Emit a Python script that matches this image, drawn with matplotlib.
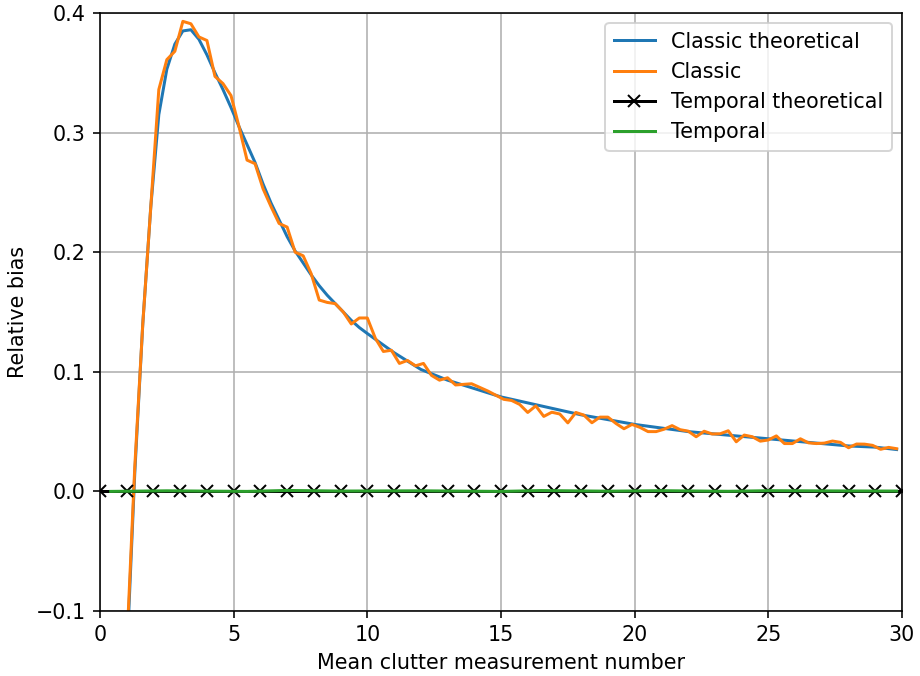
import numpy as np
import matplotlib
matplotlib.use("Agg")
import matplotlib.pyplot as plt

plt.rcParams["font.size"] = 10.3

# Classic estimator, sampled every 0.3 from 1.0 to 29.8
classic_x = np.round(np.arange(1.0, 29.81, 0.3), 1)
classic_y = [
    -0.13, 0.02, 0.14, 0.238, 0.336, 0.361, 0.368, 0.393, 0.391, 0.380,
    0.377, 0.347, 0.341, 0.331, 0.305, 0.277, 0.274, 0.253, 0.238, 0.224,
    0.221, 0.200, 0.197, 0.182, 0.160, 0.158, 0.157, 0.150, 0.140, 0.145,
    0.145, 0.128, 0.117, 0.118, 0.107, 0.1095, 0.105, 0.107, 0.097, 0.093,
    0.095, 0.089, 0.0895, 0.090, 0.087, 0.084, 0.0805, 0.077, 0.076, 0.0727,
    0.066, 0.0715, 0.0627, 0.0662, 0.0647, 0.0573, 0.066, 0.0638, 0.0574, 0.0621,
    0.0621, 0.0568, 0.0524, 0.056, 0.0535, 0.050, 0.050, 0.052, 0.055, 0.0516,
    0.0504, 0.0457, 0.0503, 0.048, 0.0482, 0.0507, 0.0415, 0.0471, 0.0457, 0.042,
    0.043, 0.0464, 0.040, 0.040, 0.044, 0.0406, 0.040, 0.0404, 0.0421, 0.041,
    0.0365, 0.0396, 0.0395, 0.0385, 0.0352, 0.0368, 0.0357,
]

# Classic theoretical curve (read at selected points)
theo_x = [1.0, 1.3, 1.6, 1.9, 2.2, 2.5, 2.8, 3.1, 3.4, 3.7, 4.0, 4.3, 4.6, 4.9,
          5.2, 5.5, 5.8, 6.1, 6.4, 6.7, 7.0, 7.3, 7.6, 7.9, 8.2, 8.5, 8.8, 9.1,
          9.4, 9.7, 10.0, 11, 12, 13, 14, 15, 16, 17, 18, 19, 20, 21, 22, 23,
          24, 25, 26, 27, 28, 29, 29.8]
theo_y = [-0.14, 0.015, 0.14, 0.238, 0.315, 0.353, 0.374, 0.385, 0.386, 0.378,
          0.365, 0.35, 0.336, 0.321, 0.305, 0.29, 0.275, 0.257, 0.241, 0.227,
          0.213, 0.201, 0.191, 0.181, 0.172, 0.164, 0.157, 0.150, 0.143, 0.137,
          0.132, 0.116, 0.102, 0.093, 0.086, 0.079, 0.074, 0.069, 0.064, 0.060,
          0.056, 0.053, 0.050, 0.048, 0.046, 0.044, 0.042, 0.040, 0.038, 0.037,
          0.035]

# Temporal theoretical (markers at each integer)
temp_theo_x = list(range(0, 31))
temp_theo_y = [0.0] * 31

# Temporal estimator
temp_x = [0.4, 2.5, 5.5, 7.0, 9.0, 12.0, 15.0, 16.5, 19.0, 21.0, 23.5, 25.0, 27.5, 29.8]
temp_y = [0.0, 0.0005, 0.0, 0.0008, 0.0003, 0.0005, 0.0, 0.0007, 0.0002, 0.0006,
          0.0001, 0.0006, 0.0004, 0.0003]

fig = plt.figure(figsize=(920 / 144, 676 / 144), dpi=144)
ax = fig.add_axes([100 / 920, 1 - 611 / 676, 802 / 920, 598 / 676])

ax.plot(theo_x, theo_y, color="C0", label="Classic theoretical")
ax.plot(classic_x, classic_y, color="C1", label="Classic")
ax.plot(temp_theo_x, temp_theo_y, color="black", marker="x", label="Temporal theoretical")
ax.plot(temp_x, temp_y, color="C2", label="Temporal")

ax.set_xlim(0, 30)
ax.set_ylim(-0.1, 0.4)
ax.set_xlabel("Mean clutter measurement number")
ax.set_ylabel("Relative bias")
ax.grid(True)
ax.legend(loc="upper right")

fig.savefig("out.png", dpi=144)
